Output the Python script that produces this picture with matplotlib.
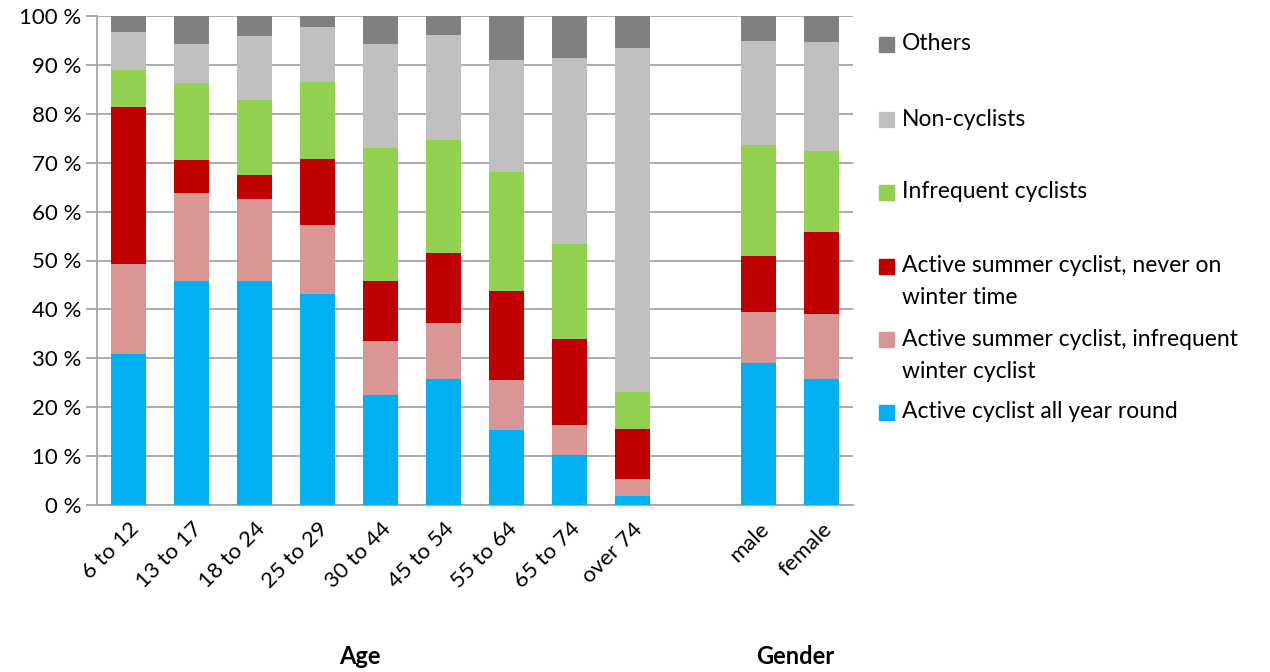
import matplotlib.pyplot as plt
from matplotlib.patches import Rectangle

plt.rcParams['font.family'] = ['Lato', 'DejaVu Sans']

# categories (slot 9 left empty between age and gender groups)
labels = ['6 to 12', '13 to 17', '18 to 24', '25 to 29', '30 to 44', '45 to 54',
          '55 to 64', '65 to 74', 'over 74', 'male', 'female']
positions = [0, 1, 2, 3, 4, 5, 6, 7, 8, 10, 11]

# shares in percent, bottom to top
all_year = [30.9, 45.8, 45.8, 43.1, 22.4, 25.7, 15.3, 10.3, 1.8, 29.0, 25.7]
summer_infreq_winter = [18.3, 18.0, 16.7, 14.2, 11.1, 11.6, 10.2, 6.0, 3.5, 10.4, 13.3]
summer_never_winter = [32.1, 6.7, 4.9, 13.5, 12.3, 14.3, 18.2, 17.7, 10.2, 11.6, 16.9]
infrequent = [7.7, 15.9, 15.4, 15.8, 27.2, 23.1, 24.4, 19.4, 7.7, 22.7, 16.4]
non_cyclists = [7.7, 7.8, 13.1, 11.2, 21.2, 21.4, 23.0, 38.0, 70.3, 21.1, 22.3]
others = [3.3, 5.8, 4.1, 2.2, 5.8, 3.9, 8.9, 8.6, 6.5, 5.2, 5.4]

series = [
    ('Active cyclist all year round', all_year, '#00B0F0'),
    ('Active summer cyclist, infrequent\nwinter cyclist', summer_infreq_winter, '#D99694'),
    ('Active summer cyclist, never on\nwinter time', summer_never_winter, '#C00000'),
    ('Infrequent cyclists', infrequent, '#92D050'),
    ('Non-cyclists', non_cyclists, '#BFBFBF'),
    ('Others', others, '#808080'),
]

W, H = 1270, 672
fig = plt.figure(figsize=(W / 100, H / 100), dpi=100)
ax = fig.add_axes([97 / W, 1 - 505 / H, (853 - 97) / W, (505 - 16) / H])

bottom = [0.0] * len(labels)
for name, vals, color in series:
    ax.bar(positions, vals, bottom=bottom, width=0.57, color=color, zorder=3)
    bottom = [b + v for b, v in zip(bottom, vals)]

ax.set_xlim(-0.5, 11.5)
ax.set_ylim(0, 100)
ax.set_yticks(range(0, 101, 10))
ax.set_yticklabels([f'{v} %' for v in range(0, 101, 10)], fontsize=16)
ax.yaxis.grid(True, color='#A6A6A6', linewidth=1.3, zorder=0)
for s in ['top', 'right']:
    ax.spines[s].set_visible(False)
for s in ['left', 'bottom']:
    ax.spines[s].set_color('#A6A6A6')
    ax.spines[s].set_linewidth(1.3)
ax.tick_params(axis='y', length=8, color='#A6A6A6', width=1.3, pad=3)
ax.tick_params(axis='x', length=0, pad=10)
ax.set_xticks(positions)
ax.set_xticklabels(labels, rotation=45, ha='right', va='top',
                   rotation_mode='anchor', fontsize=16)

fig.text(360 / W, 1 - 656 / H, 'Age', ha='center', va='center',
         fontsize=17, fontweight='bold')
fig.text(795 / W, 1 - 656 / H, 'Gender', ha='center', va='center',
         fontsize=17, fontweight='bold')

# legend drawn by hand to match the uneven spacing
legend_rows = [
    ('Others', '#808080', [44]),
    ('Non-cyclists', '#BFBFBF', [119]),
    ('Infrequent cyclists', '#92D050', [192]),
    ('Active summer cyclist, never on\nwinter time', '#C00000', [266, 297]),
    ('Active summer cyclist, infrequent\nwinter cyclist', '#D99694', [339, 371]),
    ('Active cyclist all year round', '#00B0F0', [412]),
]
for text, color, ys in legend_rows:
    fig.patches.append(Rectangle((879 / W, 1 - (ys[0] + 8) / H), 15 / W, 15 / H,
                                 transform=fig.transFigure, color=color))
    for line, y in zip(text.split('\n'), ys):
        fig.text(902 / W, 1 - y / H, line, ha='left', va='center', fontsize=16.5)

fig.savefig('out.png', dpi=100)
